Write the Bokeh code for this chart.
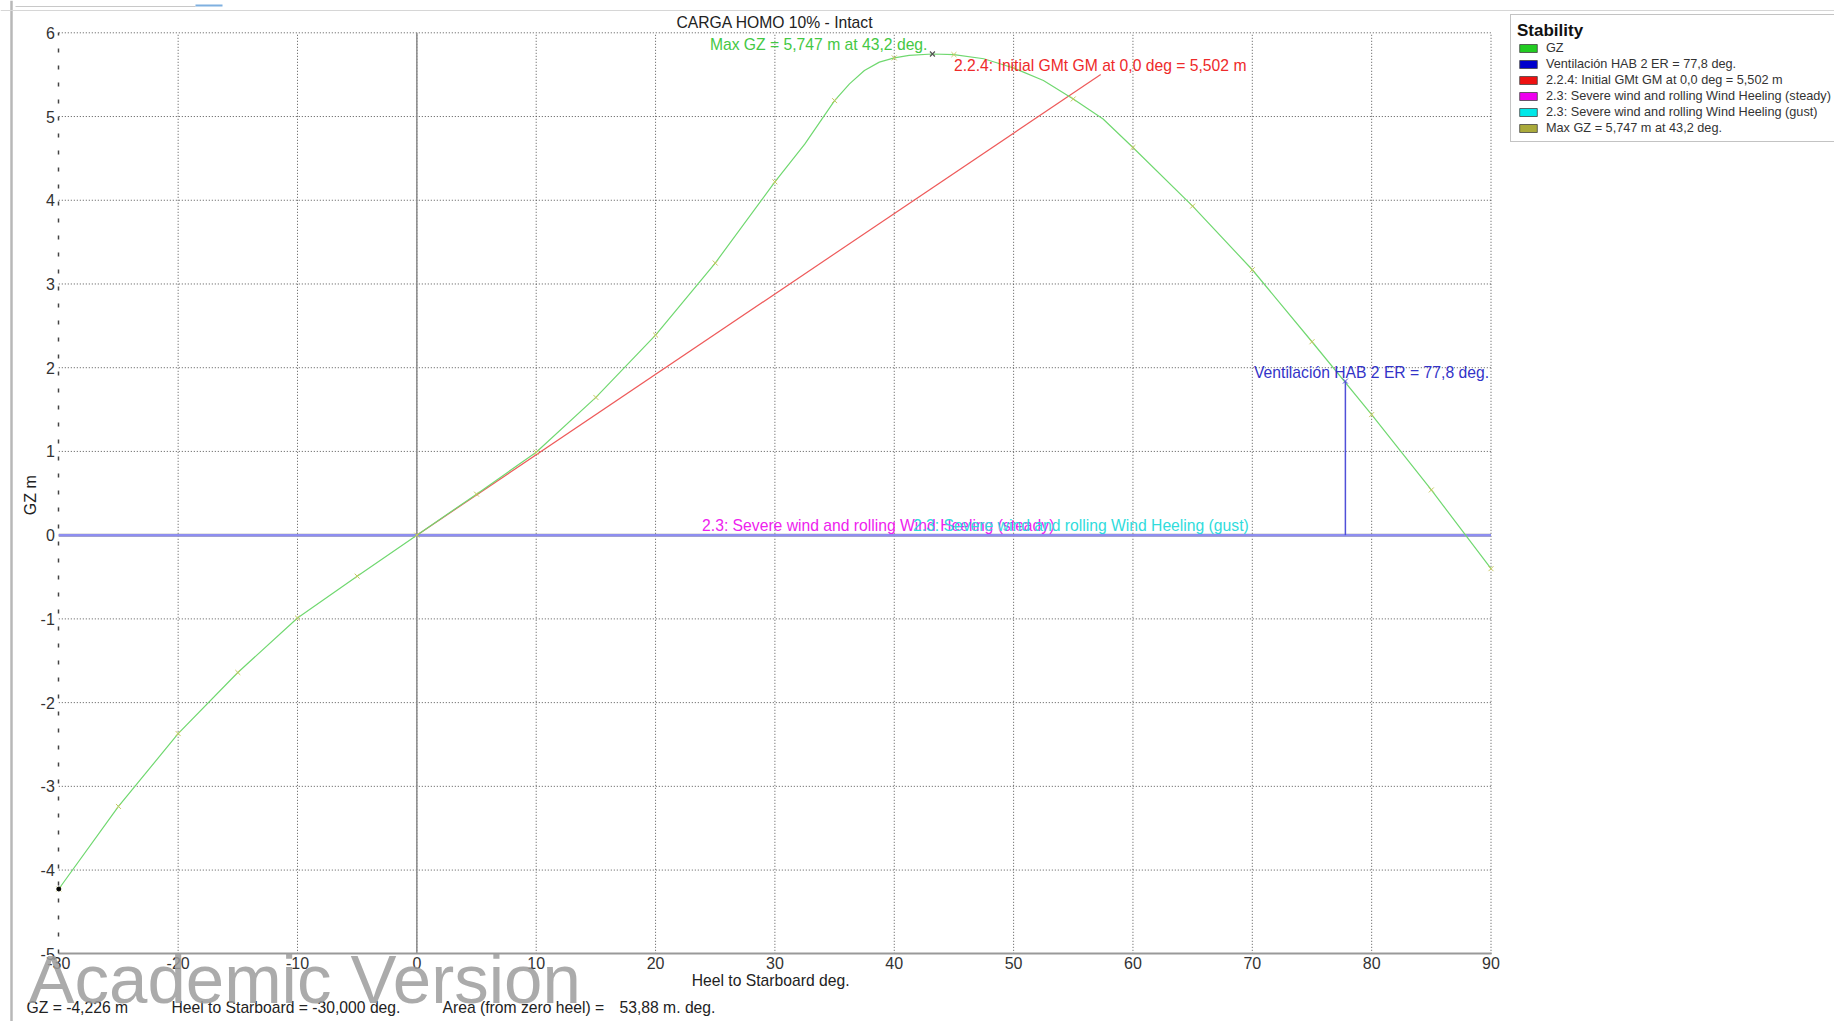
from bokeh.plotting import figure
from bokeh.models import (Range1d, Label, Legend, LegendItem, FixedTicker, Span,
                          CustomJSTickFormatter)
from bokeh.embed import file_html
from bokeh.resources import INLINE

# ---------------- data ----------------
heel_deg = [-30, -25, -20, -15, -10, -5, 0, 5, 10, 15, 20, 25, 30, 32.5, 33.75, 35, 36.25,
            37.5, 38.75, 40, 41.25, 43.2, 45, 47.5, 50, 52.5, 55, 57.5, 60, 65, 70, 75,
            80, 85, 90]
gz_m = [-4.226, -3.24, -2.37, -1.64, -0.99, -0.49, 0.0, 0.49, 0.99, 1.645, 2.39, 3.25,
        4.22, 4.67, 4.93, 5.19, 5.39, 5.55, 5.65, 5.70, 5.73, 5.747, 5.74, 5.69, 5.58,
        5.43, 5.21, 4.97, 4.63, 3.93, 3.17, 2.31, 1.44, 0.54, -0.40]

marker_heel = [h for h in heel_deg if h % 5 == 0]
marker_gz = [g for h, g in zip(heel_deg, gz_m) if h % 5 == 0]

gm_heel = [0.0, 57.3]          # initial GM line (1 rad -> GM)
gm_gz = [0.0, 5.502]
wind_heel = [-30, 90]          # wind heeling arms (steady / gust), ~0 m
wind_arm = [0.0, 0.0]
er_heel = [77.8, 77.8]         # Ventilación HAB 2 ER
er_gz = [0.0, 1.84]
max_heel = [43.2]
max_gz = [5.747]
cursor_heel = [-30]
cursor_gz = [-4.226]

x_ticks = [-30, -20, -10, 0, 10, 20, 30, 40, 50, 60, 70, 80, 90]
y_ticks = [-5, -4, -3, -2, -1, 0, 1, 2, 3, 4, 5, 6]
X_MIN, X_MAX, Y_MIN, Y_MAX = -30, 90, -5, 6

legend_labels = ["GZ", "Ventilación HAB 2 ER = 77,8 deg.",
                 "2.2.4: Initial GMt GM at 0,0 deg = 5,502 m",
                 "2.3: Severe wind and rolling Wind Heeling (steady)",
                 "2.3: Severe wind and rolling Wind Heeling (gust)",
                 "Max GZ = 5,747 m at 43,2 deg."]
legend_colors = ["#22cc22", "#0000cc", "#ee1111", "#ee00ee", "#00e8e8", "#aaaa3a"]

# ---------------- layout (pixels on the 1834x1021 page) ----------------
W, H = 1834, 1021
BOX_L, BOX_R, BOX_T, BOX_B = 58.3, 1490.5, 32.3, 953.3
ppx = (BOX_R - BOX_L) / (X_MAX - X_MIN)
ppy = (BOX_B - BOX_T) / (Y_MAX - Y_MIN)
x_start = X_MIN - BOX_L / ppx
x_end = X_MAX + (W - BOX_R) / ppx
y_end = Y_MAX + BOX_T / ppy
y_start = Y_MIN - (H - BOX_B) / ppy


def X(px):
    return x_start + px / ppx


def Y(py):
    return y_end - py / ppy


FONT = "Liberation Sans"
NAN = float("nan")

p = figure(width=W, height=H, x_range=Range1d(x_start, x_end), y_range=Range1d(y_start, y_end),
           output_backend="svg", toolbar_location=None,
           min_border_left=0, min_border_right=0, min_border_top=0, min_border_bottom=0)
p.outline_line_color = None
p.background_fill_color = "white"
p.border_fill_color = "white"
p.grid.visible = False

# ---------------- axes ----------------
fmt = CustomJSTickFormatter(code="return String(tick)")
p.xaxis.ticker = FixedTicker(ticks=x_ticks, minor_ticks=[])
p.yaxis.ticker = FixedTicker(ticks=y_ticks, minor_ticks=[])
for ax in (p.xaxis[0], p.yaxis[0]):
    ax.formatter = fmt
    ax.major_label_text_font = FONT
    ax.major_label_text_font_size = "16px"
    ax.major_label_text_color = "#333333"
    ax.axis_label_text_font = FONT
    ax.axis_label_text_font_style = "normal"
    ax.axis_label_text_color = "#222222"
    ax.major_tick_in = 0
    ax.major_tick_out = 0
    ax.minor_tick_in = 0
    ax.minor_tick_out = 0
p.xaxis.fixed_location = Y_MIN
p.xaxis.bounds = (X_MIN, X_MAX)
p.yaxis.fixed_location = X_MIN
p.yaxis.bounds = (Y_MIN, Y_MAX)
p.xaxis.axis_label = "Heel to Starboard   deg."
p.xaxis.axis_label_text_font_size = "15.7px"
p.yaxis.axis_label = "GZ  m"
p.yaxis.axis_label_text_font_size = "16px"
p.xaxis.axis_line_color = "#999999"
p.xaxis.axis_line_width = 2
p.xaxis.major_label_standoff = 3
p.xaxis.axis_label_standoff = 0
p.yaxis.axis_line_color = "#444444"
p.yaxis.axis_line_width = 1.5
p.yaxis.axis_line_dash = "4 13"
p.yaxis.major_label_standoff = 4
p.yaxis.axis_label_standoff = -2

# ---------------- grid (dotted) ----------------
gx = [t for t in x_ticks if t != X_MIN]
gy = [t for t in y_ticks if t != Y_MIN]
p.segment(x0=gx, y0=[Y_MIN] * len(gx), x1=gx, y1=[Y_MAX] * len(gx),
          line_color="#444444", line_dash="1 2", line_width=1, line_alpha=0.9)
p.segment(x0=[X_MIN] * len(gy), y0=gy, x1=[X_MAX] * len(gy), y1=gy,
          line_color="#444444", line_dash="1 2", line_width=1, line_alpha=0.9)

# zero lines
p.segment(x0=[0], y0=[Y_MIN], x1=[0], y1=[Y_MAX], line_color="#8a8a8a", line_width=1.5)
p.segment(x0=[X_MIN], y0=[0], x1=[X_MAX], y1=[0], line_color="#999999", line_width=3)

# wind heeling arms
p.line(wind_heel, wind_arm, line_color="#8e8ef0", line_width=2.5)

# initial GM line
p.line(gm_heel, gm_gz, line_color="#ee5a5a", line_width=1.2)

# GZ curve
p.line(heel_deg, gz_m, line_color="#70d870", line_width=1.2)
p.scatter(marker_heel, marker_gz, marker="x", size=7, line_color="#c8c860", line_width=1)

# ER line
p.line(er_heel, er_gz, line_color="#5050d8", line_width=1.5)
p.scatter([er_heel[1]], [er_gz[1]], marker="x", size=7, line_color="#5050d8", line_width=1)

# max GZ marker
p.scatter(max_heel, max_gz, marker="x", size=7, line_color="#555555", line_width=1.2)

# cursor point
p.scatter(cursor_heel, cursor_gz, marker="circle", size=4, fill_color="black", line_color="black")


# ---------------- texts ----------------
def label(x, y, text, color, size="15.7px", align="left", baseline="middle", xo=0, yo=0,
          style="normal", alpha=1.0):
    p.add_layout(Label(x=x, y=y, text=text, text_color=color, text_font=FONT,
                       text_font_size=size, text_align=align, text_baseline=baseline,
                       x_offset=xo, y_offset=yo, text_font_style=style, text_alpha=alpha))


# title
label((X_MIN + X_MAX) / 2, Y(22), "CARGA HOMO 10% - Intact", "#222222", align="center")

# annotations on the curves
label(max_heel[0], max_gz[0], "Max GZ = 5,747 m at 43,2 deg.", "#44c844", align="right", xo=-5, yo=9)
label(45, gm_gz[1], "2.2.4: Initial GMt GM at 0,0 deg = 5,502 m", "#ee2a2a", yo=9)
label(X_MAX, er_gz[1], "Ventilación HAB 2 ER = 77,8 deg.", "#3333c8", align="right", xo=-2, yo=9)
label(23.9, 0, "2.3: Severe wind and rolling Wind Heeling (steady)", "#ee22ee", yo=10)
label(69.7, 0, "2.3: Severe wind and rolling Wind Heeling (gust)", "#30dcdc", align="right", yo=10)

# footer
label(X(26), Y(1007), "GZ = -4,226 m", "#222222")
label(X(171), Y(1007), "Heel to Starboard = -30,000  deg.", "#222222")
label(X(442), Y(1007), "Area (from zero heel) =", "#222222")
label(X(619), Y(1007), "53,88 m. deg.", "#222222")

# watermark
label(X(28), Y(979), "Academic Version", "#9c9c9c", size="69px", baseline="alphabetic",
      alpha=0.85)

# window chrome
p.add_layout(Span(location=X(11), dimension="height", line_color="#b8b8b8", line_width=2.5))
p.add_layout(Span(location=Y(10), dimension="width", line_color="#d6d6d6", line_width=1))
p.segment(x0=[X(15)], y0=[Y(6)], x1=[X(195)], y1=[Y(6)], line_color="#c8c8c8", line_width=1)
p.segment(x0=[X(195)], y0=[Y(5)], x1=[X(222)], y1=[Y(5)], line_color="#7fb0e0", line_width=2)

# ---------------- legend ----------------
items = []
for lab, col in zip(legend_labels, legend_colors):
    r = p.quad(left=[NAN], right=[NAN], top=[NAN], bottom=[NAN], fill_color=col,
               line_color="#444444", line_width=0.8)
    items.append(LegendItem(label=lab, renderers=[r]))
legend = Legend(items=items, location=(1510, H - 142), title="Stability",
                title_text_font=FONT, title_text_font_size="17px", title_text_font_style="bold",
                title_text_color="#111111", title_standoff=0,
                label_text_font=FONT, label_text_font_size="12.7px", label_text_color="#333333",
                label_height=12, label_standoff=7, glyph_width=22, glyph_height=10,
                spacing=2, padding=6, margin=0, border_line_color="#888888",
                border_line_width=1, background_fill_color="white", background_fill_alpha=1)
p.add_layout(legend, "center")

open("out.html", "w").write(file_html(p, INLINE))
